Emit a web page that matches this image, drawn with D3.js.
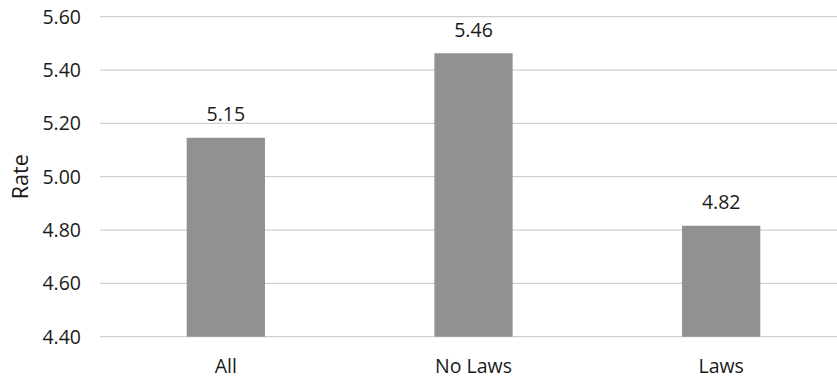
<!DOCTYPE html>
<html><head><meta charset="utf-8">
<script src="https://cdn.jsdelivr.net/npm/d3@7/dist/d3.min.js"></script>
<style>body{margin:0;background:#fff}svg{display:block}</style>
</head><body>
<svg id="c" width="837" height="377"></svg>
<script>
const categories = ["All", "No Laws", "Laws"];
const rates = [5.146, 5.463, 4.816];
const yTicks = [4.40, 4.60, 4.80, 5.00, 5.20, 5.40, 5.60];
const yLabel = "Rate";

const svg = d3.select("#c");
const font = "'Open Sans', sans-serif";
const plotLeft = 100, plotTop = 16.7, plotBottom = 336.7;
const x = d3.scaleBand().domain(categories).range([102, 845]).paddingInner(0.684).paddingOuter(0.342);
const y = d3.scaleLinear().domain([4.4, 5.6]).range([plotBottom, plotTop]);

svg.append("g").selectAll("line").data(yTicks).join("line")
  .attr("x1", plotLeft).attr("x2", 837)
  .attr("y1", d => y(d)).attr("y2", d => y(d))
  .attr("stroke", "#d0d0d0").attr("stroke-width", 1.3);

svg.append("g").selectAll("text").data(yTicks).join("text")
  .attr("x", 81).attr("y", d => y(d)).attr("dy", "0.36em")
  .attr("text-anchor", "end").attr("font-family", font).attr("font-size", 19.5)
  .attr("fill", "#1a1a1a").text(d => d.toFixed(2));

svg.append("g").selectAll("rect").data(rates).join("rect")
  .attr("x", (d, i) => x(categories[i])).attr("width", x.bandwidth())
  .attr("y", d => y(d)).attr("height", d => y(4.4) - y(d))
  .attr("fill", "#919191");

svg.append("g").selectAll("text").data(rates).join("text")
  .attr("x", (d, i) => x(categories[i]) + x.bandwidth() / 2)
  .attr("y", d => y(d) - 16.5)
  .attr("text-anchor", "middle").attr("font-family", font).attr("font-size", 19.5)
  .attr("fill", "#1a1a1a").text(d => d3.format(".2f")(d));

svg.append("g").selectAll("text").data(categories).join("text")
  .attr("x", d => x(d) + x.bandwidth() / 2).attr("y", 372.5)
  .attr("text-anchor", "middle").attr("font-family", font).attr("font-size", 19.5)
  .attr("fill", "#1a1a1a").text(d => d);

svg.append("text")
  .attr("transform", `translate(28,${(plotTop + plotBottom) / 2}) rotate(-90)`)
  .attr("text-anchor", "middle").attr("font-family", font).attr("font-size", 21.5)
  .attr("fill", "#1a1a1a").text(yLabel);
</script>
</body></html>
